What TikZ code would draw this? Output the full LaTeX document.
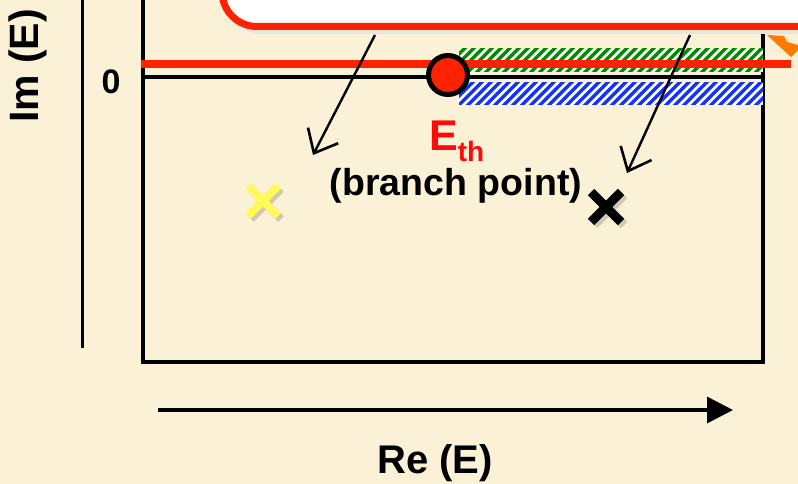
\documentclass[tikz,border=0pt]{standalone}
\usepackage{fontspec}
\setmainfont{Liberation Sans}
\usetikzlibrary{arrows.meta}
\definecolor{bg}{RGB}{251,241,214}
\definecolor{redline}{RGB}{255,34,0}
\definecolor{ethred}{RGB}{255,10,10}
\definecolor{hgreen}{RGB}{0,140,0}
\definecolor{hblue}{RGB}{20,50,255}
\definecolor{orng}{RGB}{255,122,0}
\definecolor{xyellow}{RGB}{255,250,90}
\definecolor{shadowgray}{RGB}{232,229,222}
\definecolor{xshadow}{RGB}{170,160,140}
\tikzset{
  thinarrow/.style={line width=2.4pt, -{Straight Barb[length=20pt,width=34pt,line width=2.6pt]}},
  lbl/.style={font=\fontsize{40}{48}\selectfont\bfseries, inner sep=0pt},
}
\begin{document}
\begin{tikzpicture}[x=1pt,y=-1pt]
\useasboundingbox (0,0) rectangle (798,484);
\clip (0,0) rectangle (798,484);
\fill[bg] (0,0) rectangle (798,484);
% main box
\draw[line width=3.5pt] (143,-20) rectangle (763,362);
% Im axis
\draw[line width=3pt] (82,-5) -- (82,348);
% top rounded box with shadow
\fill[shadowgray, rounded corners=35pt] (226,-80) rectangle (850,34);
\draw[redline, line width=7pt, fill=white, rounded corners=35pt] (222,-80) rectangle (850,26.5);
% hatched bands
\fill[white] (459,49) rectangle (763,72);
\begin{scope}
\clip (459,49) rectangle (763,72);
\foreach \x in {430,439,...,770} {\draw[hgreen, line width=3.3pt] (\x,74) -- ++(27,-27);}
\end{scope}
\fill[white] (459,83) rectangle (763,105);
\begin{scope}
\clip (459,83) rectangle (763,105);
\foreach \x in {430,439,...,770} {\draw[hblue, line width=3.3pt] (\x,107) -- ++(26,-26);}
\end{scope}
% real axis line and cut
\draw[line width=3.5pt] (143,77) -- (763,77);
\draw[redline, line width=8pt] (141,64) -- (791,64);
% orange arrow tip (partial)
\fill[orng] (767,35) -- (784,36) -- (787,42) -- (798,45) -- (798,50) -- (791,57) -- cycle;
% branch point
\node[circle, draw=black, line width=5pt, fill=redline, minimum size=39pt, inner sep=0pt] (bp) at (448,75) {};
% arrows from box
\coordinate (a1s) at (375,35);
\coordinate (a1e) at (313,155);
\coordinate (a2s) at (690,35);
\coordinate (a2e) at (627,173);
\draw[thinarrow] (a1s) -- (a1e);
\draw[thinarrow] (a2s) -- (a2e);
% labels
\node[anchor=base west, text=ethred, inner sep=0pt] (eth) at (429,151) {\fontsize{43}{50}\selectfont\bfseries E\raisebox{-10pt}{\fontsize{28}{30}\selectfont th}};
\node[anchor=base, inner sep=0pt] (bpt) at (456,196) {\fontsize{37.5}{44}\selectfont\bfseries (branch point)};
\node[inner sep=0pt] (zero) at (111,82) {\fontsize{34}{40}\selectfont\bfseries 0};
\node[lbl, rotate=90, font=\fontsize{41}{48}\selectfont\bfseries] (imE) at (28,66) {Im (E)};
\node[lbl] (reE) at (435,463) {Re (E)};
% Re axis arrow
\coordinate (ras) at (158,410);
\coordinate (rae) at (733,410);
\draw[line width=3.5pt, -{Triangle[length=26pt,width=26pt]}] (ras) -- (rae);
% crosses
\coordinate (y1) at (263,201);
\coordinate (k1) at (606,207);
\draw[xshadow, opacity=0.5, line width=8pt] ([shift={(-15,-15)}]y1) ++(3,3) -- ++(30,30);
\draw[xshadow, opacity=0.5, line width=8pt] ([shift={(15,-15)}]y1) ++(3,3) -- ++(-30,30);
\draw[xyellow, line width=8pt] ([shift={(-15,-15)}]y1) -- ([shift={(15,15)}]y1);
\draw[xyellow, line width=8pt] ([shift={(15,-15)}]y1) -- ([shift={(-15,15)}]y1);
\draw[xshadow, opacity=0.5, line width=9pt] ([shift={(-15,-15)}]k1) ++(3,3) -- ++(30,30);
\draw[xshadow, opacity=0.5, line width=9pt] ([shift={(15,-15)}]k1) ++(3,3) -- ++(-30,30);
\draw[black, line width=9pt] ([shift={(-15,-15)}]k1) -- ([shift={(15,15)}]k1);
\draw[black, line width=9pt] ([shift={(15,-15)}]k1) -- ([shift={(-15,15)}]k1);
\end{tikzpicture}
\end{document}
